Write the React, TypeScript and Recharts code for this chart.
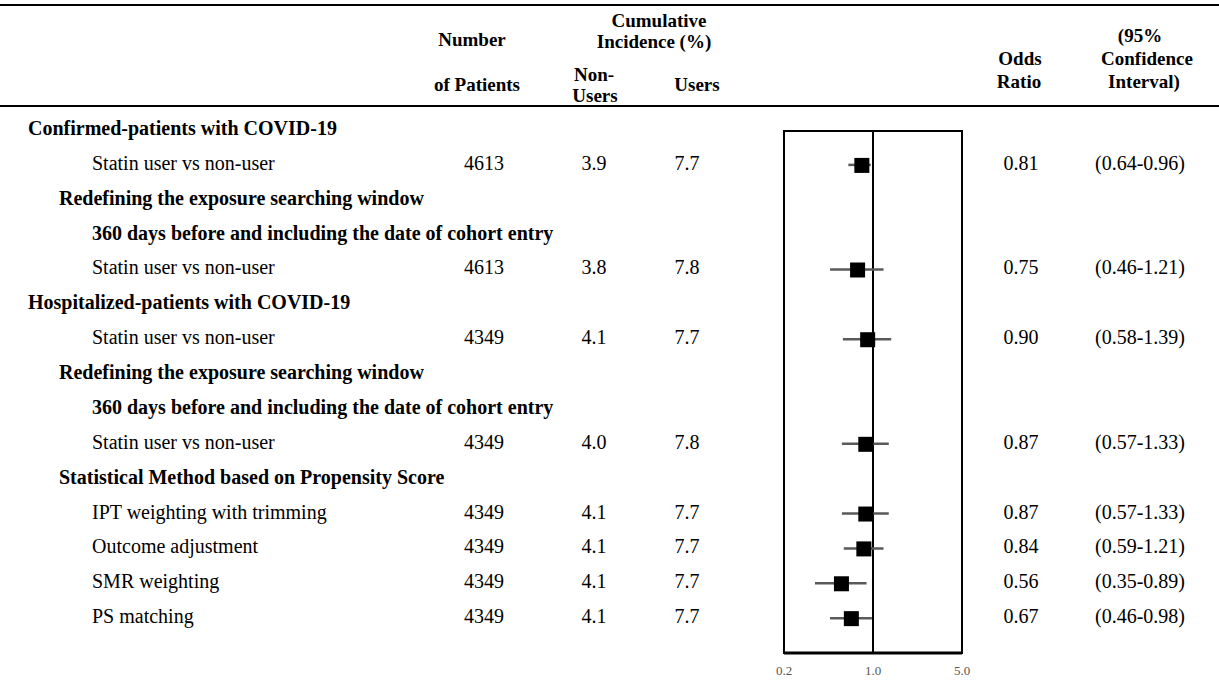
import React from 'react';
import {
  ErrorBar,
  ReferenceArea,
  ReferenceLine,
  Scatter,
  ScatterChart,
  XAxis,
  YAxis,
} from 'recharts';

// table rows, top to bottom
const rowLabels = [
  'Confirmed-patients with COVID-19',
  'Statin user vs non-user',
  'Redefining the exposure searching window',
  '360 days before and including the date of cohort entry',
  'Statin user vs non-user',
  'Hospitalized-patients with COVID-19',
  'Statin user vs non-user',
  'Redefining the exposure searching window',
  '360 days before and including the date of cohort entry',
  'Statin user vs non-user',
  'Statistical Method based on Propensity Score',
  'IPT weighting with trimming',
  'Outcome adjustment',
  'SMR weighting',
  'PS matching',
];
const rowIndent = [0, 2, 1, 2, 2, 0, 2, 1, 2, 2, 1, 2, 2, 2, 2];
const rowBold = [true, false, true, true, false, true, false, true, true, false, true, false, false, false, false];

// one entry per estimate
const estimateRows = [1, 4, 6, 9, 11, 12, 13, 14];
const patients = [4613, 4613, 4349, 4349, 4349, 4349, 4349, 4349];
const nonUsers = ['3.9', '3.8', '4.1', '4.0', '4.1', '4.1', '4.1', '4.1'];
const users = ['7.7', '7.8', '7.7', '7.8', '7.7', '7.7', '7.7', '7.7'];
const oddsRatios = [0.81, 0.75, 0.9, 0.87, 0.87, 0.84, 0.56, 0.67];
const ciLow = [0.64, 0.46, 0.58, 0.57, 0.57, 0.59, 0.35, 0.46];
const ciHigh = [0.96, 1.21, 1.39, 1.33, 1.33, 1.21, 0.89, 0.98];

const xTicks = [0.2, 1, 5];

const FONT = '"Liberation Serif", "Times New Roman", serif';
const FS = 20;
const HFS = 19;
const indentX = [28, 59, 92];
const colX = { n: 484, non: 594, users: 687, or: 1021, ci: 1140 };

const points = estimateRows.map((row, i) => ({
  row,
  or: oddsRatios[i],
  err: [oddsRatios[i] - ciLow[i], ciHigh[i] - oddsRatios[i]],
}));

function RowTick(props: any) {
  const row = props.payload.value as number;
  const y = props.y - 2;
  const i = estimateRows.indexOf(row);
  const common = { fontFamily: FONT, fontSize: FS, fill: '#000', dominantBaseline: 'central' as const };
  return (
    <g>
      <text {...common} x={indentX[rowIndent[row]]} y={y} fontWeight={rowBold[row] ? 'bold' : 'normal'}>
        {rowLabels[row]}
      </text>
      {i >= 0 && (
        <>
          <text {...common} x={colX.n} y={y} textAnchor="middle">{patients[i]}</text>
          <text {...common} x={colX.non} y={y} textAnchor="middle">{nonUsers[i]}</text>
          <text {...common} x={colX.users} y={y} textAnchor="middle">{users[i]}</text>
          <text {...common} x={colX.or} y={y} textAnchor="middle">{oddsRatios[i].toFixed(2)}</text>
          <text {...common} x={colX.ci} y={y} textAnchor="middle">
            ({ciLow[i].toFixed(2)}-{ciHigh[i].toFixed(2)})
          </text>
        </>
      )}
    </g>
  );
}

const Square = (p: any) => <rect x={p.cx - 7} y={p.cy - 7} width={15} height={15} fill="#000" />;

const headers: { text: string; x: number; y: number }[] = [
  { text: 'Number', x: 472, y: 39 },
  { text: 'of Patients', x: 477, y: 84 },
  { text: 'Cumulative', x: 659, y: 20 },
  { text: 'Incidence (%)', x: 654, y: 41 },
  { text: 'Non-', x: 594, y: 74 },
  { text: 'Users', x: 595, y: 95 },
  { text: 'Users', x: 697, y: 84 },
  { text: 'Odds', x: 1020, y: 58 },
  { text: 'Ratio', x: 1019, y: 81 },
  { text: '(95%', x: 1140, y: 35 },
  { text: 'Confidence', x: 1147, y: 58 },
  { text: 'Interval)', x: 1144, y: 81 },
];

export default function App() {
  return (
    <div style={{ position: 'absolute', left: 0, top: 0, width: 1219, height: 686, background: '#fff', fontFamily: FONT }}>
      <div style={{ position: 'absolute', left: 0, top: 4, width: 1219, height: 2, background: '#000' }} />
      <div style={{ position: 'absolute', left: 0, top: 105, width: 1219, height: 2, background: '#000' }} />
      {headers.map((h, k) => (
        <div
          key={k}
          style={{
            position: 'absolute',
            left: h.x,
            top: h.y,
            transform: 'translate(-50%, -50%)',
            fontWeight: 'bold',
            fontSize: HFS,
            whiteSpace: 'nowrap',
            lineHeight: 1,
          }}
        >
          {h.text}
        </div>
      ))}
      <ScatterChart width={1219} height={686} margin={{ top: 0, right: 257, bottom: 3, left: 783 }}>
        <XAxis
          type="number"
          dataKey="or"
          scale="log"
          domain={[0.2, 5]}
          allowDataOverflow
          ticks={xTicks}
          tickFormatter={(v: number) => v.toFixed(1)}
          tickLine={false}
          tickSize={0}
          tickMargin={13}
          height={30}
          axisLine={{ stroke: '#000', strokeWidth: 3 }}
          tick={{ fontFamily: FONT, fontSize: 13, fill: '#555' }}
        />
        <YAxis
          type="number"
          dataKey="row"
          domain={[-3.73, 15]}
          reversed
          allowDataOverflow
          ticks={rowLabels.map((_, k) => k)}
          interval={0}
          width={1}
          axisLine={false}
          tickLine={false}
          tick={<RowTick />}
        />
        <ReferenceArea x1={0.2} x2={5} y1={0.03} y2={15} fill="none" stroke="#000" strokeWidth={2} ifOverflow="visible" />
        <ReferenceLine
          segment={[{ x: 1, y: 0.03 }, { x: 1, y: 15 }]}
          stroke="#000"
          strokeWidth={2}
        />
        <Scatter data={points} shape={Square} isAnimationActive={false}>
          <ErrorBar dataKey="err" direction="x" width={0} stroke="#5a5a5a" strokeWidth={2.5} />
        </Scatter>
      </ScatterChart>
    </div>
  );
}
